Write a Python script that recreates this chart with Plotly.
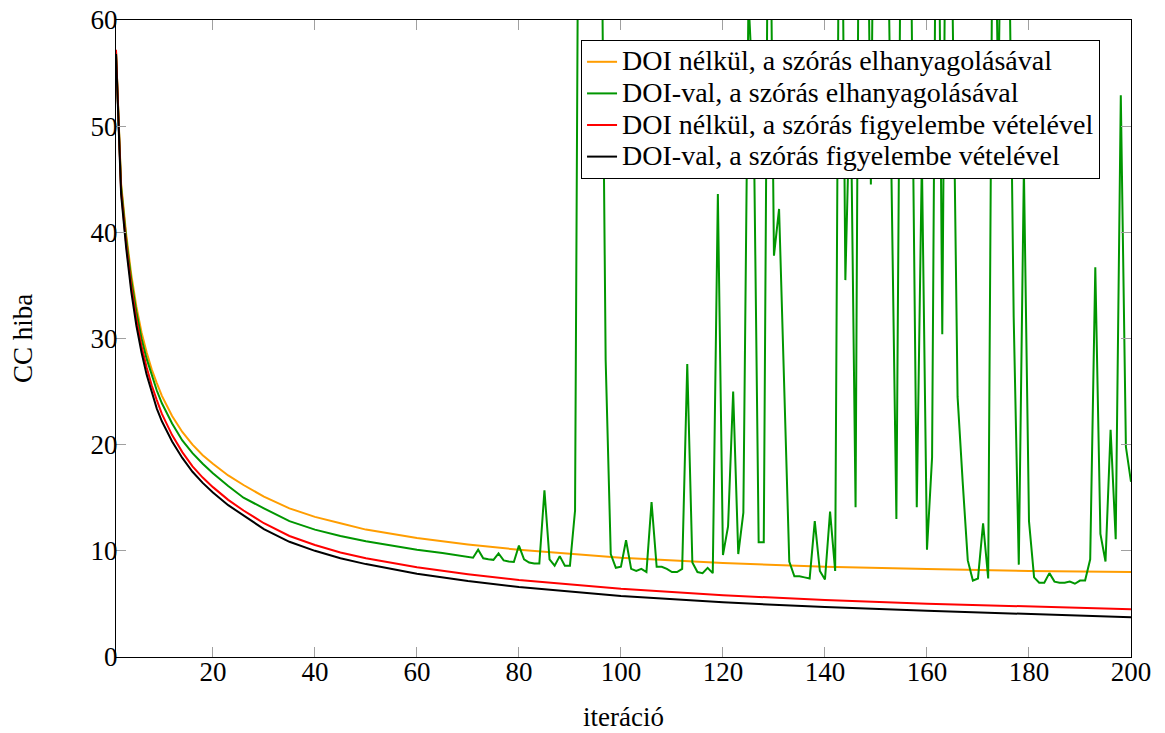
import plotly.graph_objects as go

# ---- data ----
smooth_x = [1, 2, 3, 4, 5, 6, 7, 8, 9, 10, 12, 14, 16, 18, 20, 23, 26, 30, 35, 40,
            45, 50, 60, 70, 80, 90, 100, 120, 140, 160, 180, 200]
orange_y = [57.0, 44.6, 39.8, 36.0, 33.0, 30.6, 28.7, 27.1, 25.8, 24.6, 22.7, 21.2, 20.0,
            19.0, 18.2, 17.1, 16.2, 15.1, 14.0, 13.2, 12.6, 12.0, 11.2, 10.6, 10.1, 9.7,
            9.35, 8.85, 8.5, 8.3, 8.1, 8.0]
red_y = [57.2, 43.9, 38.9, 34.9, 31.8, 29.3, 27.3, 25.6, 24.2, 22.9, 20.9, 19.3, 17.95,
         16.9, 16.0, 14.8, 13.8, 12.6, 11.4, 10.55, 9.85, 9.3, 8.45, 7.8, 7.25, 6.8,
         6.42, 5.82, 5.37, 5.02, 4.73, 4.5]
black_y = [56.8, 43.6, 38.5, 34.4, 31.2, 28.7, 26.6, 24.9, 23.4, 22.2, 20.3, 18.75, 17.45,
           16.4, 15.5, 14.3, 13.3, 12.05, 10.85, 10.0, 9.3, 8.75, 7.85, 7.15, 6.6, 6.15,
           5.75, 5.15, 4.7, 4.35, 4.03, 3.75]

green_smooth_x = [1, 2, 3, 4, 5, 6, 7, 8, 9, 10, 12, 14, 16, 18, 20, 23, 26, 30, 35, 40,
                  45, 50, 55, 60, 65, 70]
green_smooth_y = [57.0, 44.3, 39.4, 35.5, 32.5, 30.0, 28.1, 26.5, 25.1, 23.9, 22.0, 20.4,
                  19.2, 18.2, 17.3, 16.1, 15.0, 14.0, 12.8, 12.0, 11.4, 10.9, 10.5, 10.1,
                  9.8, 9.45]
# iterations 71..200 (values above 60 are clipped by the axis range)
green_noisy_y = [
    9.35, 10.1, 9.3, 9.2, 9.15, 9.75, 9.1, 9.0, 8.95, 10.5,      # 71-80
    9.2, 8.9, 8.8, 8.8, 15.7, 9.2, 8.6, 9.5, 8.6, 8.6,           # 81-90
    13.8, 106, 130, 145, 120, 81, 28, 9.7, 8.4, 8.5,             # 91-100
    11.0, 8.3, 8.1, 8.3, 8.0, 14.6, 8.5, 8.5, 8.3, 8.0,          # 101-110
    8.0, 8.3, 27.6, 8.9, 8.0, 7.9, 8.4, 7.9, 43.6, 9.6,          # 111-120
    12.3, 25.0, 9.7, 13.6, 62, 52, 10.8, 10.8, 85, 37.8,         # 121-130
    42.2, 26, 9.0, 7.6, 7.6, 7.5, 7.4, 12.8, 8.1, 7.3,           # 131-140
    13.7, 8.1, 94, 35.5, 55, 14.1, 106, 90, 44.5, 100,           # 141-150
    120, 80, 47, 13.0, 80, 110, 60.5, 14.1, 47, 10.1,            # 151-160
    18.8, 91, 30.4, 95, 62, 24.5, 16.5, 9.1, 7.2, 7.4,           # 161-170
    12.6, 7.4, 82, 52, 92, 72, 32, 8.7, 46, 12.8,                # 171-180
    7.5, 7.0, 7.0, 7.9, 7.1, 7.0, 7.0, 7.1, 6.9, 7.2,            # 181-190
    7.2, 9.2, 36.7, 11.6, 9.0, 21.4, 11.1, 52.9, 19.8, 16.5,     # 191-200
]
green_noisy_x = list(range(71, 201))

x_ticks = [20, 40, 60, 80, 100, 120, 140, 160, 180, 200]
y_ticks = [0, 10, 20, 30, 40, 50, 60]

names = [
    "DOI nélkül, a szórás elhanyagolásával",
    "DOI-val, a szórás elhanyagolásával",
    "DOI nélkül, a szórás figyelembe vételével",
    "DOI-val, a szórás figyelembe vételével",
]
colors = ["#FF9D00", "#009600", "#FF0000", "#000000"]

FONT = "Liberation Serif"
FS = 27


def legend_label(text):
    return '<span style="font-size:28px">' + text + "</span>"


fig = go.Figure()
fig.add_trace(go.Scatter(x=smooth_x, y=orange_y, mode="lines", name=legend_label(names[0]),
                         line=dict(color=colors[0], width=2)))
fig.add_trace(go.Scatter(x=green_smooth_x + green_noisy_x,
                         y=green_smooth_y + green_noisy_y, mode="lines",
                         name=legend_label(names[1]),
                         line=dict(color=colors[1], width=2)))
fig.add_trace(go.Scatter(x=smooth_x, y=red_y, mode="lines", name=legend_label(names[2]),
                         line=dict(color=colors[2], width=2)))
fig.add_trace(go.Scatter(x=smooth_x, y=black_y, mode="lines", name=legend_label(names[3]),
                         line=dict(color=colors[3], width=2)))

axis_common = dict(
    showline=True, linecolor="black", linewidth=1, mirror="allticks",
    ticks="inside", ticklen=10, tickcolor="#a0a0a0", tickwidth=1,
    showgrid=False, zeroline=False, automargin=False,
    tickfont=dict(family=FONT, size=FS, color="black"),
)

fig.update_layout(
    width=1165, height=733,
    margin=dict(l=116, r=34, t=20, b=76, autoexpand=False),
    paper_bgcolor="white", plot_bgcolor="white",
    font=dict(family=FONT, size=FS, color="black"),
    hovermode=False,
    xaxis=dict(range=[1, 200], tickvals=x_ticks, ticklabelstandoff=-9,
               title=dict(text="iteráció", font=dict(family=FONT, size=FS), standoff=20),
               **axis_common),
    yaxis=dict(range=[0, 60], tickvals=y_ticks, ticklabelstandoff=-8,
               title=dict(text="CC hiba", font=dict(family=FONT, size=FS), standoff=50),
               **axis_common),
    legend=dict(x=0.9695, y=0.9686, xanchor="right", yanchor="top",
                bgcolor="white", bordercolor="black", borderwidth=1,
                font=dict(family=FONT, size=22, color="black"),
                tracegroupgap=0),
    showlegend=True,
)

fig.write_html("out.html",
               config={"displayModeBar": False},
               post_script="document.body.style.margin='0';document.body.style.overflow='hidden';")
